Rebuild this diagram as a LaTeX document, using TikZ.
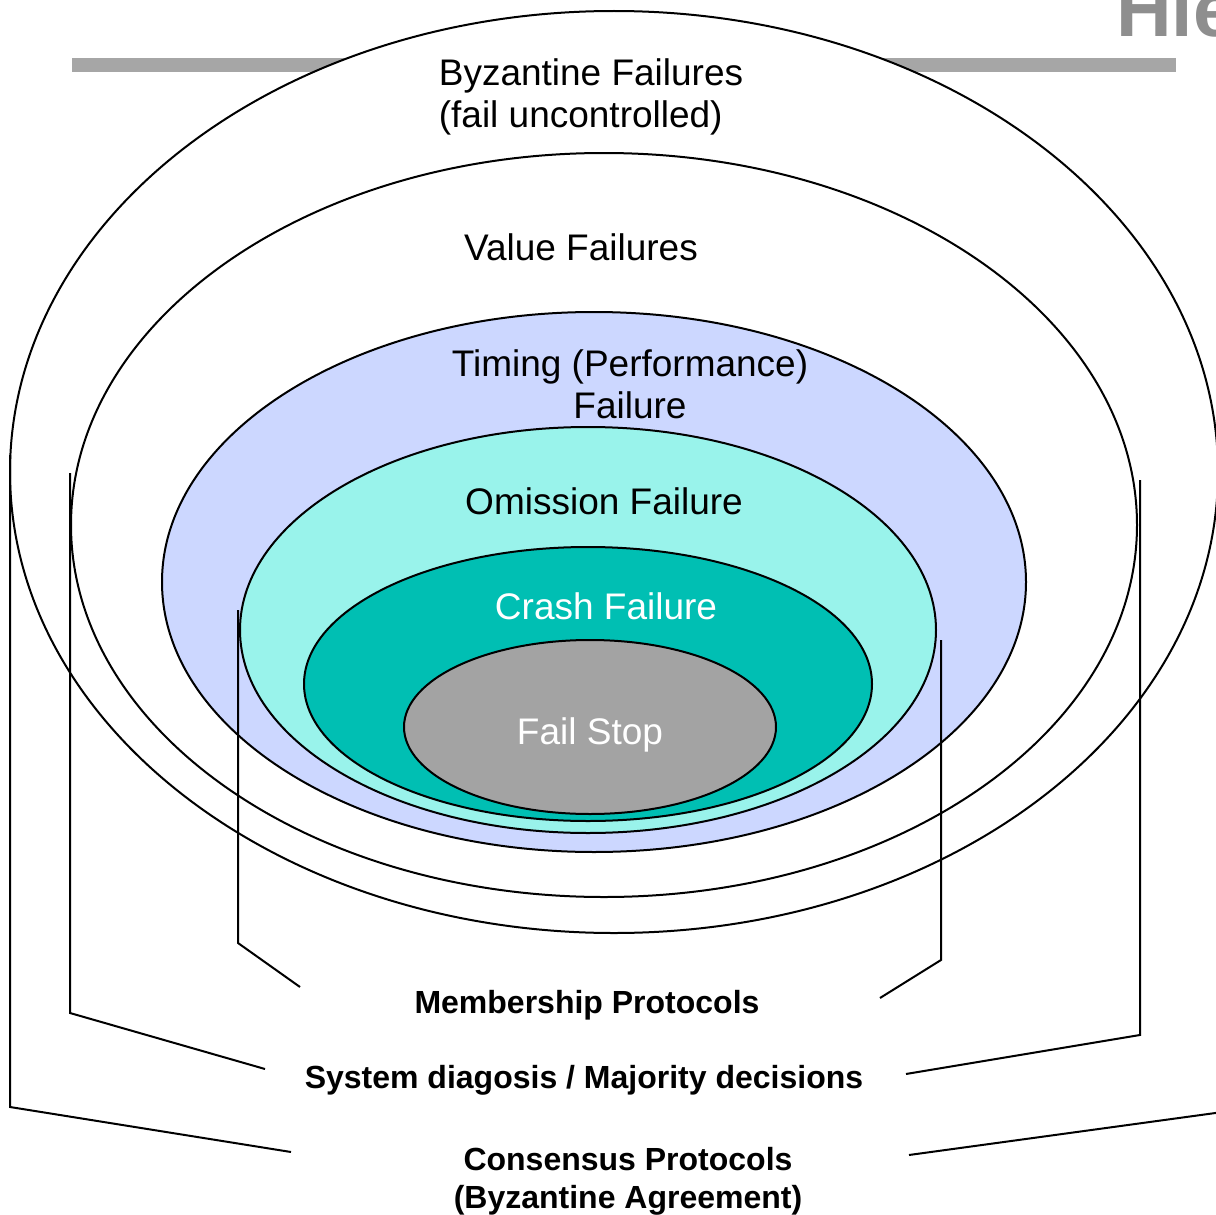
\documentclass[tikz,border=0pt]{standalone}
\usepackage{fontspec}
\setmainfont{Liberation Sans}
\usetikzlibrary{shapes.geometric,positioning,calc}
\definecolor{timingblue}{HTML}{CCD7FF}
\definecolor{omissioncyan}{HTML}{99F3EB}
\definecolor{crashteal}{HTML}{00BFB3}
\definecolor{stopgray}{HTML}{A3A3A3}
\definecolor{bargray}{HTML}{A6A6A6}
\definecolor{titlegray}{HTML}{8E8E8E}

\begin{document}
\begin{tikzpicture}[
	x=1pt, y=-1pt,
	ring/.style = {ellipse, draw, line width=2pt, inner sep=0pt},
	failtext/.style = {font=\fontsize{37}{42}\selectfont, align=center, inner sep=0pt},
	prottext/.style = {font=\fontsize{32}{38}\selectfont\bfseries, align=center, inner sep=0pt},
	bracket/.style = {draw, line width=2pt}
]
\clip (0,0) rectangle (1216,1215);
\fill[white] (0,0) rectangle (1216,1215);

% title bar
\fill[bargray] (72,58) rectangle (1176,72);
\node[anchor=base west, text=titlegray, inner sep=0pt,
	font=\fontsize{77}{77}\selectfont\bfseries] (title) at (1116,37) {Hie};

% failure classes
\node[ring, fill=white, minimum width=1208, minimum height=922] (byz) at (614,472) {};
\node[ring, fill=white, minimum width=1066, minimum height=744] (value) at (604,525) {};
\node[ring, fill=timingblue, minimum width=864, minimum height=540] (timing) at (594,582) {};
\node[ring, fill=omissioncyan, minimum width=696, minimum height=406] (omis) at (588,630) {};
\node[ring, fill=crashteal, minimum width=568, minimum height=274] (crash) at (588,684) {};
\node[ring, fill=stopgray, minimum width=372, minimum height=174] (stop) at (590,727) {};

\node[failtext, align=left] (byzlbl) at (591,97) {Byzantine Failures\\(fail uncontrolled)};
\node[failtext] (valuelbl) at (581,247) {Value Failures};
\node[failtext] (timinglbl) at (630,384) {Timing (Performance)\\Failure};
\node[failtext] (omislbl) at (604,501) {Omission Failure};
\node[failtext, text=white] (crashlbl) at (606,606) {Crash Failure};
\node[failtext, text=white] (stoplbl) at (590,735) {Fail Stop};

% protocols
\node[prottext] (memb) at (587,1005) {Membership Protocols};
\node[prottext] (diag) at (584,1080) {System diagosis / Majority decisions};
\node[prottext] (cons) at (628,1181) {Consensus Protocols\\(Byzantine Agreement)};

\coordinate (membL) at (300,987);
\coordinate (membR) at (880,998);
\coordinate (diagL) at (265,1069);
\coordinate (diagR) at (906,1074);
\coordinate (consL) at (291,1152);
\coordinate (consR) at (909,1155);

\draw[bracket] (238,610) -- (238,943) -- (membL);
\draw[bracket] (941,640) -- (941,960) -- (membR);
\draw[bracket] (70,473) -- (70,1013) -- (diagL);
\draw[bracket] (1140,480) -- (1140,1035) -- (diagR);
\draw[bracket] (10,455) -- (10,1107) -- (consL);
\draw[bracket] (1230,500) -- (1230,1111) -- (consR);
\end{tikzpicture}
\end{document}
